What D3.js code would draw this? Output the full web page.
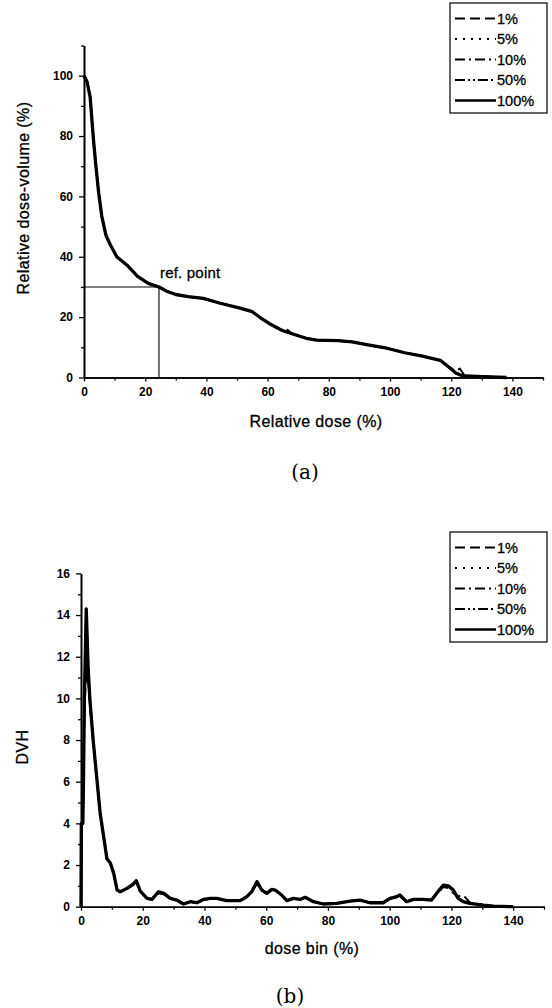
<!DOCTYPE html>
<html>
<head>
<meta charset="utf-8">
<script src="https://cdn.jsdelivr.net/npm/d3@7"></script>
<style>
  body { margin: 0; background: #fff; }
  svg { display: block; }
  .tick text { font-family: "Liberation Sans", Arial, sans-serif; font-size: 12px; font-weight: bold; fill: #000; }
  .title { font-family: "Liberation Sans", Arial, sans-serif; font-size: 16px; letter-spacing: 0.4px; fill: #000; stroke: #000; stroke-width: 0.3px; }
  .cap { font-family: "DejaVu Serif", serif; font-size: 20px; fill: #000; }
</style>
</head>
<body>
<svg id="chart" width="552" height="1008"></svg>
<script>
const SERIES = ["1%", "5%", "10%", "50%", "100%"];
const DASHES = ["10,5", "2,6", "10,4,2,4", "10,3,2,3,2,3", null];

// (a) cumulative dose-volume, relative dose (%) vs relative volume (%)
const cumDose = [0, 1, 2, 3, 3.7, 4.7, 5.8, 7.2, 8.6, 10.7, 14, 17.5, 21, 24.5, 27, 30, 34, 39, 44.5, 51, 55, 57.8, 60.5, 64.5, 66.5, 68, 72.6, 76, 83, 87.6, 93.3, 99, 104.8, 110.6, 116.4, 119.2, 121.5, 122.8, 124.4, 130.4, 138];
const cumVol100 = [100, 98, 93, 80, 72, 62, 53.5, 47, 44, 40, 37.3, 33.5, 31.2, 30, 28.6, 27.5, 26.8, 26.2, 24.6, 23, 21.8, 19.7, 17.9, 15.7, 15, 14.5, 13, 12.4, 12.2, 11.8, 10.7, 9.7, 8.2, 7.1, 5.7, 3.5, 1.5, 0.9, 0.5, 0.3, 0];
const cumVol1 = [100, 98, 93, 80, 72, 62, 53.5, 47, 44, 40, 37.3, 33.5, 31.2, 30, 28.6, 27.5, 26.8, 26.2, 24.6, 23, 21.8, 19.7, 17.9, 15.9, 15.8, 14.5, 13, 12.4, 12.2, 11.8, 10.7, 9.7, 8.2, 7.1, 5.7, 3.6, 2.0, 3.0, 0.6, 0.3, 0];
const refDose = 24.5;
const refVol = 30;

// (b) differential DVH per dose bin
const binDose = [0, 0.1, 0.6, 0.8, 1.1, 1.7, 2.3, 2.9, 4, 5.1, 6.2, 7.5, 8.4, 9.5, 10.6, 11.7, 12.7, 14.9, 17, 17.9, 19.2, 21.4, 23, 25.1, 26.8, 28.9, 31, 33.2, 35.4, 37.5, 39.7, 41.9, 44, 47.2, 51.6, 53.7, 55.3, 57, 58.6, 60.2, 61.8, 62.9, 65, 66.7, 68.8, 71, 72.6, 75.3, 78.5, 82.8, 87.2, 90.4, 93.6, 97.9, 100.1, 102.3, 103.3, 105.5, 107.7, 110.9, 113.6, 115.2, 117.4, 119, 120.6, 122.2, 123.8, 126, 130.3, 133.6, 140];
const dvh100 = [0, 4, 4, 6, 10, 14.3, 11.5, 9.9, 7.9, 6.2, 4.5, 3.2, 2.3, 2.1, 1.6, 0.8, 0.72, 0.88, 1.1, 1.25, 0.75, 0.4, 0.35, 0.72, 0.64, 0.4, 0.32, 0.13, 0.24, 0.19, 0.35, 0.4, 0.4, 0.29, 0.29, 0.48, 0.72, 1.2, 0.8, 0.64, 0.83, 0.8, 0.56, 0.29, 0.4, 0.35, 0.45, 0.24, 0.13, 0.16, 0.27, 0.32, 0.19, 0.19, 0.4, 0.48, 0.56, 0.24, 0.35, 0.35, 0.32, 0.64, 1.04, 1.0, 0.8, 0.4, 0.24, 0.16, 0.08, 0.03, 0];
const dvh1 = [0, 4, 4, 5.8, 9.5, 11.2, 10.8, 9.7, 7.8, 6.1, 4.5, 3.2, 2.3, 2.1, 1.6, 0.8, 0.72, 0.85, 1.05, 1.2, 0.75, 0.4, 0.35, 0.65, 0.6, 0.4, 0.32, 0.13, 0.24, 0.19, 0.33, 0.38, 0.4, 0.29, 0.29, 0.45, 0.7, 1.1, 0.8, 0.64, 0.78, 0.8, 0.56, 0.29, 0.4, 0.35, 0.45, 0.24, 0.13, 0.16, 0.27, 0.32, 0.19, 0.19, 0.38, 0.45, 0.5, 0.24, 0.35, 0.35, 0.32, 0.6, 0.95, 0.9, 0.65, 0.5, 0.56, 0.2, 0.08, 0.03, 0];

const panels = [
  {
    x: d3.scaleLinear([0, 150], [84, 543]),
    y: d3.scaleLinear([0, 110], [377.5, 45.5]),
    yMajor: d3.range(0, 101, 20), yMinor: d3.range(10, 111, 20),
    xs: cumDose, series: [cumVol1, cumVol100, cumVol100, cumVol100, cumVol100],
    xTitle: "Relative dose (%)", yTitle: "Relative dose-volume (%)",
    xTitleY: 427, xTitleX: 316, yTitleX: 29, yTitleY: 198,
    cap: "(a)", capX: 305, capY: 479, legendTop: 3
  },
  {
    x: d3.scaleLinear([0, 150], [81, 544]),
    y: d3.scaleLinear([0, 16], [906.7, 573.4]),
    yMajor: d3.range(0, 17, 2), yMinor: d3.range(1, 16, 2),
    xs: binDose, series: [dvh1, dvh100, dvh100, dvh100, dvh100],
    xTitle: "dose bin (%)", yTitle: "DVH",
    xTitleY: 954, xTitleX: 312, yTitleX: 28, yTitleY: 747,
    cap: "(b)", capX: 290, capY: 1003, legendTop: 532
  }
];

const svg = d3.select("#chart");
svg.append("rect").attr("width", 552).attr("height", 1008).attr("fill", "#fff");

panels.forEach((p, pi) => {
  const g = svg.append("g");
  const y0 = p.y.range()[0];
  const x0 = p.x.range()[0];

  // x axis: labelled ticks every 20, minor ticks in between
  g.append("g").attr("transform", `translate(0,${y0})`)
    .call(d3.axisBottom(p.x).tickValues(d3.range(0, 141, 20)).tickSize(4).tickSizeOuter(0).tickPadding(6));
  g.append("g").attr("transform", `translate(0,${y0})`)
    .call(d3.axisBottom(p.x).tickValues(d3.range(10, 151, 20)).tickSize(3).tickSizeOuter(0).tickFormat(""));

  // y axis
  g.append("g").attr("transform", `translate(${x0},0)`)
    .call(d3.axisLeft(p.y).tickValues(p.yMajor).tickSize(5).tickSizeOuter(0).tickPadding(6));
  g.append("g").attr("transform", `translate(${x0},0)`)
    .call(d3.axisLeft(p.y).tickValues(p.yMinor).tickSize(3).tickSizeOuter(0).tickFormat(""));

  g.selectAll(".domain").attr("stroke", "#000").attr("stroke-width", 1.6);
  g.selectAll(".tick line").attr("stroke", "#000").attr("stroke-width", 1.3);

  if (pi === 0) {
    g.append("path")
      .attr("d", `M${p.x(0)},${p.y(refVol)}H${p.x(refDose)}V${p.y(0)}`)
      .attr("fill", "none").attr("stroke", "#000").attr("stroke-width", 1.1);
    g.append("text").attr("class", "title")
      .attr("x", p.x(refDose) + 1).attr("y", p.y(refVol) - 9)
      .style("font-size", "15px").style("letter-spacing", "0.2px")
      .text("ref. point");
  }

  // curves
  p.series.forEach((vals, si) => {
    const line = d3.line().x((d, i) => p.x(p.xs[i])).y(d => p.y(d));
    g.append("path").datum(vals)
      .attr("d", line)
      .attr("fill", "none")
      .attr("stroke", "#000")
      .attr("stroke-width", si === 4 ? 3.3 : 2)
      .attr("stroke-linejoin", "round")
      .attr("stroke-dasharray", DASHES[si]);
  });

  // titles
  g.append("text").attr("class", "title")
    .attr("x", p.xTitleX).attr("y", p.xTitleY)
    .attr("text-anchor", "middle").text(p.xTitle);
  g.append("text").attr("class", "title")
    .attr("transform", `translate(${p.yTitleX},${p.yTitleY}) rotate(-90)`)
    .attr("text-anchor", "middle").text(p.yTitle);
  g.append("text").attr("class", "cap")
    .attr("x", p.capX).attr("y", p.capY)
    .attr("text-anchor", "middle").text(p.cap);

  // legend
  const lg = g.append("g").attr("transform", `translate(450,${p.legendTop})`);
  lg.append("rect").attr("width", 97).attr("height", 110)
    .attr("fill", "#fff").attr("stroke", "#000").attr("stroke-width", 1.2);
  SERIES.forEach((s, si) => {
    const yy = 15.5 + si * 20.5;
    lg.append("line").attr("x1", 5).attr("x2", 46).attr("y1", yy).attr("y2", yy)
      .attr("stroke", "#000").attr("stroke-width", si === 4 ? 2.6 : 1.8)
      .attr("stroke-dasharray", DASHES[si]);
    lg.append("text").attr("class", "title")
      .attr("x", 47).attr("y", yy + 5)
      .style("font-size", "14.5px").style("letter-spacing", "0px")
      .text(s);
  });
});
</script>
</body>
</html>
